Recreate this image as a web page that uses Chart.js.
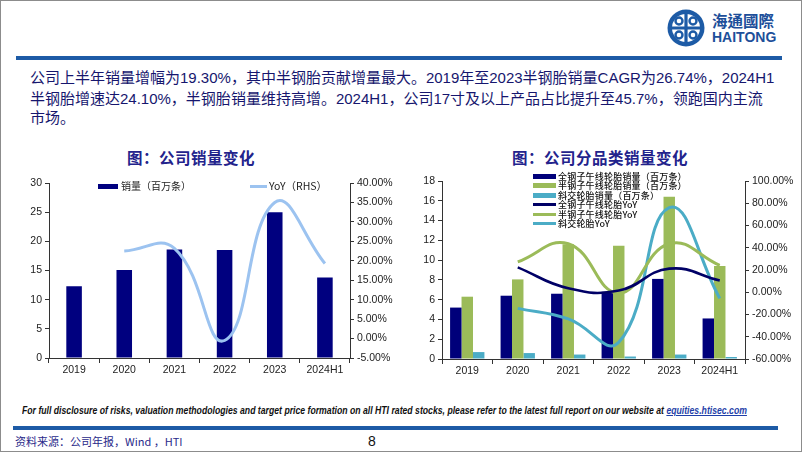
<!DOCTYPE html>
<html>
<head>
<meta charset="utf-8">
<script src="https://cdn.jsdelivr.net/npm/chart.js@4.4.1/dist/chart.umd.min.js"></script>
<style>
  body { margin: 0; width: 802px; height: 452px; position: relative; overflow: hidden; background: #fff;
         font-family: "Liberation Sans", "Noto Sans CJK SC", sans-serif; }
  .frame { position: absolute; left: 0; top: 0; width: 800px; height: 450px; border: 1px solid #8c8c8c; }
  .abs { position: absolute; white-space: nowrap; }
  .bar { position: absolute; background: #1d5ba6; }
  .intro { left: 30px; color: #16166e; font-size: 15px; line-height: 20px; font-family: "Liberation Sans", "Noto Sans CJK SC", sans-serif; }
  .title { color: #23238c; font-weight: bold; font-size: 15.5px; font-family: "Noto Sans CJK SC", sans-serif; letter-spacing: 0.5px; }
  .lg { position: absolute; white-space: nowrap; font-family: "Noto Sans CJK SC", sans-serif; color: #222; }
  .sym { position: absolute; }
  canvas { position: absolute; }
</style>
</head>
<body>
<div class="frame"></div>

<!-- logo -->
<svg class="abs" style="left:666px;top:8px" width="40" height="40" viewBox="0 0 40 40">
  <circle cx="20" cy="20" r="18.5" fill="#1d5ba6"/>
  <circle cx="20" cy="20" r="14" fill="#fff"/>
  <path d="M20 6 V34 M6 20 H34" stroke="#1d5ba6" stroke-width="3.2"/>
  <circle cx="13" cy="13" r="3.5" fill="none" stroke="#1d5ba6" stroke-width="2.4"/>
  <circle cx="27" cy="27" r="3.5" fill="none" stroke="#1d5ba6" stroke-width="2.4"/>
  <circle cx="27" cy="13" r="3.5" fill="none" stroke="#1d5ba6" stroke-width="2.4"/>
  <circle cx="13" cy="27" r="3.5" fill="none" stroke="#1d5ba6" stroke-width="2.4"/>
</svg>
<div class="abs" style="left:712px;top:10px;font-size:15.5px;font-weight:bold;color:#1d4f9a;font-family:'Noto Sans CJK TC',sans-serif;line-height:20px">海通國際</div>
<div class="abs" style="left:712px;top:29px;font-size:14px;font-weight:bold;color:#1d4f9a;line-height:16px">HAITONG</div>
<div class="bar" style="left:16px;top:56px;width:766px;height:4px"></div>

<div class="abs intro" style="top:68px">公司上半年销量增幅为19.30%，其中半钢胎贡献增量最大。2019年至2023半钢胎销量CAGR为26.74%，2024H1</div>
<div class="abs intro" style="top:89px">半钢胎增速达24.10%，半钢胎销量维持高增。2024H1，公司17寸及以上产品占比提升至45.7%，领跑国内主流</div>
<div class="abs intro" style="top:108px">市场。</div>

<div class="abs title" style="left:127px;top:146px">图：公司销量变化</div>
<div class="abs title" style="left:512px;top:146px">图：公司分品类销量变化</div>

<canvas id="c1" width="390" height="214" style="left:10px;top:168px"></canvas>
<canvas id="c2" width="400" height="214" style="left:400px;top:168px"></canvas>

<!-- legend, left chart -->
<div class="sym" style="left:98px;top:184px;width:20px;height:5px;background:#00007f"></div>
<div class="lg" style="left:121px;top:179px;font-size:10px;line-height:14px">销量（百万条）</div>
<div class="sym" style="left:250px;top:185px;width:17px;height:3px;background:#9cc3f0"></div>
<div class="lg" style="left:269px;top:179px;font-size:10.5px;line-height:14px">YoY（RHS）</div>

<!-- legend, right chart -->
<div id="lg2"></div>

<div class="abs" id="disc" style="left:22px;top:404px;font-size:10.5px;font-weight:bold;font-style:italic;color:#111;transform-origin:0 0">For full disclosure of risks, valuation methodologies and target price formation on all HTI rated stocks, please refer to the latest full report on our website at <span style="color:#1f3fa8;text-decoration:underline">equities.htisec.com</span></div>
<div class="bar" style="left:13px;top:426px;width:765px;height:4px"></div>
<div class="abs" style="left:15px;top:434px;font-size:11px;color:#2a2a8a;font-family:'Noto Sans CJK SC',sans-serif;line-height:14px">资料来源：公司年报，Wind ，HTI</div>
<div class="abs" style="left:368px;top:433px;font-size:14px;color:#111;line-height:16px">8</div>

<script>
const years = ['2019', '2020', '2021', '2022', '2023', '2024H1'];

// left chart: total sales (million units) and YoY (%)
const totalSales = [12.3, 15.1, 18.6, 18.5, 25.0, 13.8];
const totalYoY = [null, 22.5, 23.2, -0.5, 35.0, 19.3];

// right chart: by category
const allSteel = [5.2, 6.4, 6.6, 6.8, 8.1, 4.1];
const semiSteel = [6.3, 8.05, 11.6, 11.45, 16.4, 9.4];
const biasTire = [0.7, 0.6, 0.45, 0.25, 0.45, 0.2];
const allSteelYoY = [null, 22.4, 3.6, 1.5, 21.2, 10.6];
const semiSteelYoY = [null, 27.3, 43.6, -0.8, 43.6, 24.1];
const biasYoY = [null, -14.5, -24.0, -45.0, 76.0, -5.5];

const leftTicks = { min: 0, max: 30, step: 5 };
const leftRhs = { min: -5, max: 40, step: 5 };
const rightTicks = { min: 0, max: 18, step: 2 };
const rightRhs = { min: -60, max: 100, step: 20 };

const legend2 = [
  { label: '全钢子午线轮胎销量（百万条）', color: '#00007a', bar: true },
  { label: '半钢子午线轮胎销量（百万条）', color: '#9bbb59', bar: true },
  { label: '斜交轮胎销量（百万条）', color: '#4bacc6', bar: true },
  { label: '全钢子午线轮胎YoY', color: '#000066', bar: false },
  { label: '半钢子午线轮胎YoY', color: '#9bbb59', bar: false },
  { label: '斜交轮胎YoY', color: '#4bacc6', bar: false }
];

Chart.defaults.font.family = '"Liberation Sans", Arial, sans-serif';
Chart.defaults.color = '#222';

const axisColor = '#333';

function xAxis(height) {
  return {
    grid: { drawOnChartArea: false, drawTicks: true, tickLength: 5, color: axisColor, offset: true },
    border: { color: axisColor },
    ticks: { font: { size: 10.5 }, padding: 1, color: '#222' },
    afterFit(s) { s.height = height; }
  };
}

function yAxis(pos, r, width, fmt) {
  return {
    position: pos,
    min: r.min,
    max: r.max,
    grid: { drawOnChartArea: false, drawTicks: true, tickLength: 4, color: axisColor },
    border: { color: axisColor },
    ticks: { stepSize: r.step, font: { size: 10.5 }, padding: 3, color: '#222', callback: fmt },
    afterFit(s) { s.width = width; }
  };
}

const pct = v => v.toFixed(2) + '%';
const plain = v => v;

const baseOpts = {
  responsive: false,
  devicePixelRatio: 1,
  animation: false,
  plugins: { legend: { display: false }, tooltip: { enabled: false } }
};

new Chart(document.getElementById('c1'), {
  type: 'bar',
  data: {
    labels: years,
    datasets: [
      {
        type: 'line', data: totalYoY, yAxisID: 'y1', order: 0,
        borderColor: '#9cc3f0', borderWidth: 3, pointRadius: 0, tension: 0.45
      },
      {
        type: 'bar', data: totalSales, yAxisID: 'y', order: 1,
        backgroundColor: '#00007f', categoryPercentage: 1, barPercentage: 0.31
      }
    ]
  },
  options: Object.assign({}, baseOpts, {
    layout: { padding: { top: 15, left: 0, right: 0, bottom: 0 } },
    scales: {
      x: xAxis(24),
      y: yAxis('left', leftTicks, 39, plain),
      y1: yAxis('right', leftRhs, 50, pct)
    }
  })
});

new Chart(document.getElementById('c2'), {
  type: 'bar',
  data: {
    labels: years,
    datasets: [
      { type: 'line', data: allSteelYoY, yAxisID: 'y1', order: 0, borderColor: '#000066', borderWidth: 2.6, pointRadius: 0, tension: 0.45 },
      { type: 'line', data: semiSteelYoY, yAxisID: 'y1', order: 0, borderColor: '#9bbb59', borderWidth: 3, pointRadius: 0, tension: 0.45 },
      { type: 'line', data: biasYoY, yAxisID: 'y1', order: 0, borderColor: '#4bacc6', borderWidth: 3, pointRadius: 0, tension: 0.45 },
      { data: allSteel, yAxisID: 'y', order: 1, backgroundColor: '#00007a', categoryPercentage: 0.68, barPercentage: 1 },
      { data: semiSteel, yAxisID: 'y', order: 1, backgroundColor: '#9bbb59', categoryPercentage: 0.68, barPercentage: 1 },
      { data: biasTire, yAxisID: 'y', order: 1, backgroundColor: '#4bacc6', categoryPercentage: 0.68, barPercentage: 1 }
    ]
  },
  options: Object.assign({}, baseOpts, {
    layout: { padding: { top: 13, left: 0, right: 0, bottom: 0 } },
    scales: {
      x: xAxis(23),
      y: yAxis('left', rightTicks, 42, plain),
      y1: yAxis('right', rightRhs, 55, pct)
    }
  })
});

// right chart legend, stacked
const lg2 = document.getElementById('lg2');
legend2.forEach((item, i) => {
  const cy = 176 + i * 9.5;
  const sym = document.createElement('div');
  sym.className = 'sym';
  const h = item.bar ? 5 : 3;
  sym.style.cssText = `left:533px;top:${cy - h / 2}px;width:23px;height:${h}px;background:${item.color}`;
  lg2.appendChild(sym);
  const t = document.createElement('div');
  t.className = 'lg';
  t.style.cssText = `left:558px;top:${cy - 6.5}px;font-size:9px;line-height:13px;color:#111;font-weight:500;letter-spacing:0.2px`;
  t.textContent = item.label;
  lg2.appendChild(t);
});

// squeeze the disclaimer line into its width
const disc = document.getElementById('disc');
disc.style.transform = `scaleX(${725 / disc.scrollWidth})`;
</script>
</body>
</html>
